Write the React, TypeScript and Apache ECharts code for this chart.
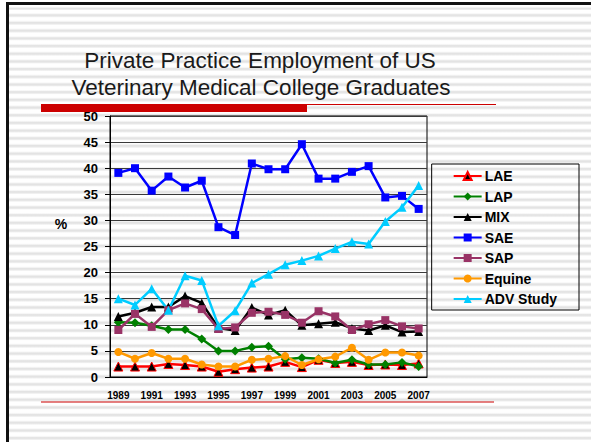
import React, { useEffect, useRef } from "react";
import * as echarts from "echarts";

const years = ["1989","1990","1991","1992","1993","1994","1995","1996","1997","1998","1999","2000","2001","2002","2003","2004","2005","2006","2007"];
const LAE = [2.0, 2.0, 2.0, 2.5, 2.3, 2.0, 1.0, 1.5, 1.8, 2.0, 2.9, 1.9, 3.3, 2.7, 2.9, 2.3, 2.4, 2.3, 2.6];
const LAP = [10.5, 10.4, 9.8, 9.1, 9.1, 7.3, 5.0, 5.0, 5.7, 5.9, 3.4, 3.7, 3.5, 2.7, 3.3, 2.4, 2.4, 2.8, 2.0];
const MIX = [11.6, 12.3, 13.4, 13.4, 15.5, 14.2, 9.4, 8.9, 13.3, 11.9, 12.8, 9.9, 10.2, 10.5, 9.3, 8.9, 9.9, 8.6, 8.7];
const SAE = [39.1, 40.0, 35.7, 38.4, 36.3, 37.6, 28.7, 27.2, 40.9, 39.8, 39.8, 44.6, 38.0, 38.0, 39.3, 40.4, 34.4, 34.7, 32.2];
const SAP = [9.0, 12.1, 9.6, 12.8, 14.1, 13.0, 9.2, 9.5, 12.3, 12.5, 11.9, 10.4, 12.6, 11.6, 9.0, 10.1, 10.9, 9.7, 9.3];
const Equine = [4.8, 3.5, 4.6, 3.5, 3.5, 2.4, 2.0, 2.0, 3.3, 3.5, 4.0, 2.3, 3.4, 3.9, 5.6, 3.3, 4.7, 4.7, 4.1];
const ADV = [15.0, 13.8, 16.9, 12.8, 19.4, 18.5, 9.8, 12.7, 18.0, 19.7, 21.5, 22.3, 23.2, 24.6, 25.9, 25.5, 29.8, 32.5, 36.7];
const yTicks = [0, 50, 5];

export default function App() {
  const ref = useRef<HTMLDivElement>(null);
  useEffect(() => {
    if (!ref.current) return;
    const chart = echarts.init(ref.current, null, { renderer: "svg" });
    const mk = (name: string, data: number[], color: string, symbol: string, size: number, extra: any = {}) => ({
      name,
      type: "line",
      data,
      symbol,
      symbolSize: size,
      showAllSymbol: true,
      lineStyle: { color: extra.lineColor || color, width: 2.5 },
      itemStyle: { color, borderColor: extra.borderColor || color, borderWidth: extra.borderColor ? 1 : 0 },
      emphasis: { disabled: true },
      z: 3,
    });
    chart.setOption({
      animation: false,
      textStyle: { fontFamily: "Liberation Sans, Arial, sans-serif" },
      grid: { left: 110, top: 116, right: 164, bottom: 65, show: true, borderColor: "#000", borderWidth: 1 },
      xAxis: {
        type: "category",
        data: years,
        boundaryGap: true,
        axisLine: { lineStyle: { color: "#000", width: 1 } },
        axisTick: { interval: 0, length: 4, lineStyle: { color: "#000" } },
        axisLabel: { interval: 1, color: "#000", fontWeight: "bold", fontSize: 10, margin: 13 },
      },
      yAxis: {
        type: "value",
        min: yTicks[0],
        max: yTicks[1],
        interval: yTicks[2],
        axisLine: { show: true, lineStyle: { color: "#000", width: 1 } },
        axisTick: { show: true, length: 5, lineStyle: { color: "#000" } },
        axisLabel: { color: "#000", fontWeight: "bold", fontSize: 13, margin: 12 },
        splitLine: { lineStyle: { color: "#3a3a3a", width: 1 } },
      },
      legend: {
        orient: "vertical",
        right: 12,
        top: 164,
        padding: [5, 22, 4, 21],
        itemWidth: 28,
        itemHeight: 10,
        itemGap: 6.5,
        borderColor: "#000",
        borderWidth: 1,
        textStyle: { color: "#000", fontWeight: "bold", fontSize: 14, padding: [0, 0, 0, -2] },
        data: ["LAE", "LAP", "MIX", "SAE", "SAP", "Equine", "ADV Study"],
      },
      graphic: [
        { type: "rect", shape: { x: 41, y: 104, width: 266, height: 8 }, style: { fill: "#cc0000" } },
        { type: "rect", shape: { x: 307, y: 104, width: 189, height: 1 }, style: { fill: "#cc0000" } },
        { type: "rect", shape: { x: 41, y: 401.5, width: 453, height: 1 }, style: { fill: "#cc0000" } },
        { type: "text", x: 260, y: 60, style: { text: "Private Practice Employment of US", fill: "#1a1a1a", fontSize: 22.5, fontFamily: "Liberation Sans, Arial, sans-serif", align: "center", verticalAlign: "middle" } },
        { type: "text", x: 261, y: 87, style: { text: "Veterinary Medical College Graduates", fill: "#1a1a1a", fontSize: 22.5, fontFamily: "Liberation Sans, Arial, sans-serif", align: "center", verticalAlign: "middle" } },
        { type: "text", x: 61, y: 224, style: { text: "%", fill: "#000", fontSize: 14, fontWeight: "bold", fontFamily: "Liberation Sans, Arial, sans-serif", align: "center", verticalAlign: "middle" } },
      ],
      series: [
        mk("LAE", LAE, "#000000", "triangle", 9, { lineColor: "#ff0000", borderColor: "#ff0000" }),
        mk("LAP", LAP, "#008000", "diamond", 9),
        mk("MIX", MIX, "#000000", "triangle", 9),
        mk("SAE", SAE, "#0000ff", "rect", 8),
        mk("SAP", SAP, "#993366", "rect", 8),
        mk("Equine", Equine, "#ff9900", "circle", 8),
        mk("ADV Study", ADV, "#00ccff", "triangle", 9),
      ],
    });
    return () => chart.dispose();
  }, []);

  const stripes =
    "repeating-linear-gradient(to bottom, #ffffff 0px, #ffffff 3.6px, #e3e3e3 4.8px, #e3e3e3 6.4px, #ffffff 7.6875px)";
  return (
    <div style={{ position: "absolute", left: 0, top: 0, width: 591, height: 442, background: "#fff", overflow: "hidden" }}>
      <div
        style={{
          position: "absolute",
          left: 6,
          top: 2,
          width: 600,
          height: 460,
          borderLeft: "3px solid #111",
          borderTop: "3px solid #111",
          backgroundImage: stripes,
          backgroundPosition: "0px 4.7px",
        }}
      />
      <div ref={ref} style={{ position: "absolute", left: 0, top: 0, width: 591, height: 442 }} />
    </div>
  );
}
